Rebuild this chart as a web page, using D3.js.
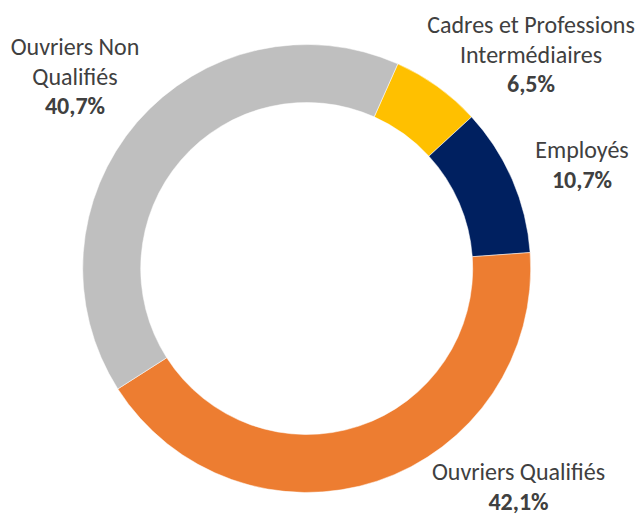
<!DOCTYPE html>
<html>
<head>
<meta charset="utf-8">
<script src="https://cdn.jsdelivr.net/npm/d3@7"></script>
<style>
	body { margin: 0; background: #fff; }
	.label { font-family: Calibri, Carlito, Lato, sans-serif; font-size: 24px; fill: #404040; }
	.pct { font-weight: bold; }
</style>
</head>
<body>
<script>
//chart data, in slice order starting near 12 o'clock
var categories = ["Cadres et Professions Intermédiaires", "Employés", "Ouvriers Qualifiés", "Ouvriers Non Qualifiés"];
var shares = [6.5, 10.7, 42.1, 40.7];
var labelLines = [["Cadres et Professions", "Intermédiaires"], ["Employés"], ["Ouvriers Qualifiés"], ["Ouvriers Non", "Qualifiés"]];
var colors = ["#FFC000", "#002060", "#ED7D31", "#BFBFBF"];

//where each label block sits (centre x, first baseline y)
var labelPos = [[531, 33], [582, 158], [518.5, 480], [75, 55]];

window.onload = drawChart();

function drawChart(){
	var width = 641,
		height = 515,
		cx = 306.7,
		cy = 268.5,
		outer = 224,
		inner = 166,
		lineStep = 29.5;

	var svg = d3.select("body")
		.append("svg")
		.attr("width", width)
		.attr("height", height);

	var data = categories.map(function(c, i){
		return { name: c, value: shares[i], lines: labelLines[i], color: colors[i], pos: labelPos[i] };
	});

	//first slice turned 24 degrees clockwise, like the excel chart
	var start = 24 * Math.PI / 180;
	var pie = d3.pie()
		.value(function(d){ return d.value; })
		.sort(null)
		.startAngle(start)
		.endAngle(start + 2 * Math.PI);

	var arc = d3.arc()
		.innerRadius(inner)
		.outerRadius(outer);

	var g = svg.append("g")
		.attr("transform", "translate(" + cx + "," + cy + ")");

	g.selectAll(".slice")
		.data(pie(data))
		.enter()
		.append("path")
		.attr("class", "slice")
		.attr("d", arc)
		.attr("fill", function(d){ return d.data.color; })
		.attr("stroke", "#fff")
		.attr("stroke-width", 0.5);

	//french number format: comma as decimal mark
	var fr = d3.formatLocale({ decimal: ",", thousands: " ", grouping: [3], currency: ["", " €"] });
	var pct = fr.format(".1f");

	var labels = svg.selectAll(".label")
		.data(data)
		.enter()
		.append("text")
		.attr("class", "label")
		.attr("text-anchor", "middle");

	labels.each(function(d){
		var t = d3.select(this);
		d.lines.forEach(function(line, i){
			t.append("tspan")
				.attr("x", d.pos[0])
				.attr("y", d.pos[1] + i * lineStep)
				.text(line);
		});
		t.append("tspan")
			.attr("class", "pct")
			.attr("x", d.pos[0])
			.attr("y", d.pos[1] + d.lines.length * lineStep)
			.text(pct(d.value) + "%");
	});
};
</script>
</body>
</html>
